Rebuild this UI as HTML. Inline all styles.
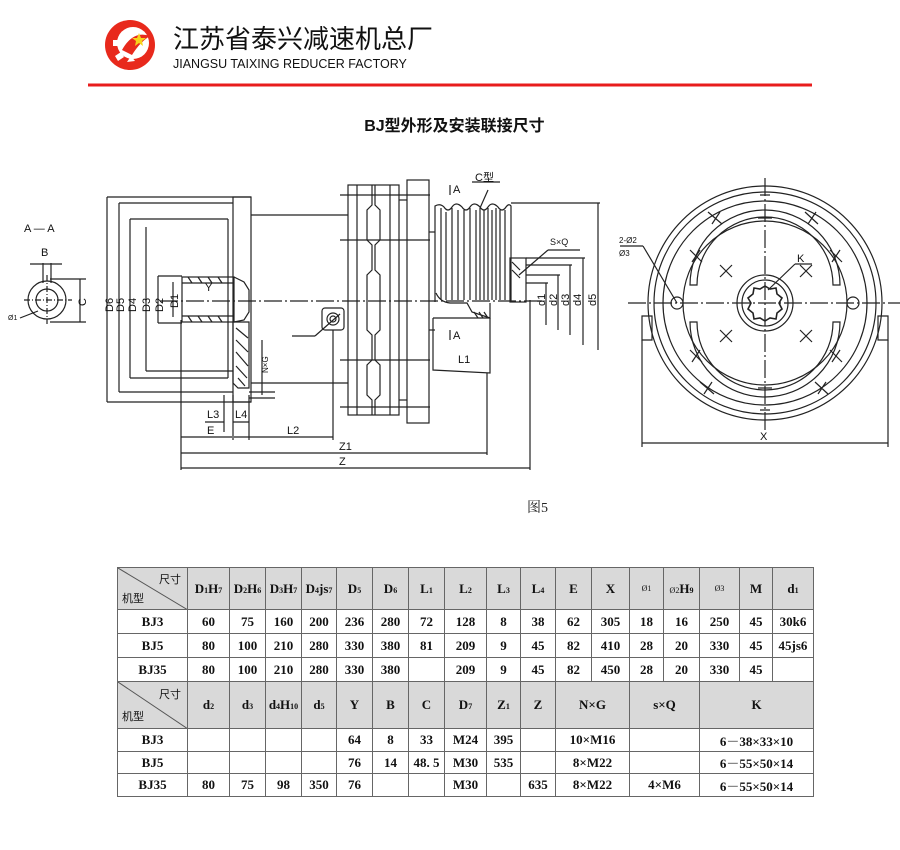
<!DOCTYPE html>
<html><head><meta charset="utf-8">
<style>
html,body{margin:0;padding:0;background:#fff;}
body{width:900px;height:850px;position:relative;overflow:hidden;font-family:"Liberation Serif","Noto Serif CJK SC",serif;}
.abs{position:absolute;}
table{border-collapse:collapse;table-layout:fixed;position:absolute;left:117px;top:567px;}
td{border:1px solid #666;text-align:center;font-weight:bold;font-size:13px;padding:0;color:#111;white-space:nowrap;overflow:hidden;}
td.g{background:#d9d9d9;}
td.c{position:relative;background:#d9d9d9;font-family:"Liberation Sans","Noto Sans CJK SC",sans-serif;font-weight:normal;font-size:11px;}
sub{font-size:8px;vertical-align:baseline;}
</style></head><body>
<svg class="abs" style="left:0;top:0" width="900" height="850" viewBox="0 0 900 850">
 <circle cx="130" cy="45" r="25" fill="#e8291c"/>
 <circle cx="133" cy="43" r="16" fill="#fff"/>
 <path d="M113 40 L119 40 L119 46 L113 46 Z M115 56 L121 52 L124 57 L118 61Z M127 62 L131 56 L135 61Z" fill="#fff"/>
 <path d="M122 50 Q133 30 150 36 Q140 42 132 55 Z" fill="#e8291c"/>
 <polygon points="139,33 141,38 146,38 142,41 143,46 139,43 135,46 136,41 132,38 137,38" fill="#f7d21a"/>
 <line x1="88" y1="85" x2="812" y2="85" stroke="#e81d1d" stroke-width="3"/>
 <g fill="none" stroke="#222" stroke-width="1.2">
  <circle cx="47" cy="300" r="19"/><circle cx="47" cy="300" r="11"/>
  <line x1="24" y1="300" x2="72" y2="300" stroke-dasharray="6,2,1,2"/>
  <line x1="47" y1="275" x2="47" y2="324" stroke-dasharray="6,2,1,2"/>
  <line x1="43" y1="263" x2="43" y2="283"/><line x1="51" y1="263" x2="51" y2="283"/>
  <line x1="30" y1="264" x2="62" y2="264"/>
  <line x1="50" y1="279" x2="86" y2="279"/><line x1="50" y1="322" x2="86" y2="322"/>
  <line x1="80" y1="279" x2="80" y2="322"/>
  <line x1="20" y1="318" x2="38" y2="311"/>
  <path d="M107 197 H251 M107 402 H251 M107 197 V402"/>
  <path d="M119 203 H233 M119 392 H233 M119 203 V392"/>
  <path d="M130 219 H228 M130 378 H228 M130 219 V378"/>
  <path d="M146 227 V371 M146 371 H233"/>
  <path d="M158 276 H182 M158 323 H182 M158 276 V323"/>
  <path d="M173 282 V317"/>
  <rect x="233" y="197" width="18" height="205"/>
  <line x1="228" y1="219" x2="228" y2="378"/>
  <rect x="182" y="277" width="52" height="45"/>
  <line x1="182" y1="283" x2="234" y2="283"/><line x1="182" y1="316" x2="234" y2="316"/>
  <path d="M234 277 L244 282 L249 290 L249 312 L244 320 L234 322"/>
  <path d="M233 322 L249 322 L249 388 L238 388 L233 383 Z"/>
  <path d="M236 328 L248 338 M236 340 L248 352 M236 352 L248 366 M236 366 L247 378 M238 378 L245 386"/>
  <path d="M188 277 L192 283 M198 277 L202 283 M208 277 L212 283 M218 277 L222 283 M188 316 L192 322 M198 316 L202 322 M208 316 L212 322 M218 316 L222 322"/>
  <path d="M251 215 H348 M251 383 H348"/>
  <rect x="322" y="308" width="22" height="22" rx="3"/>
  <circle cx="333" cy="319" r="6"/><circle cx="333" cy="319" r="3"/>
  <line x1="292" y1="336" x2="315" y2="336"/><line x1="315" y1="336" x2="340" y2="314"/>
  <rect x="348" y="185" width="51" height="230"/>
  <line x1="357" y1="185" x2="357" y2="415"/><line x1="390" y1="185" x2="390" y2="415"/>
  <path d="M372 185 V205 L367 210 V240 L372 245 V270 L367 275 V330 L372 335 V360 L367 365 V395 L372 400 V415"/>
  <path d="M375 185 V205 L380 210 V240 L375 245 V270 L380 275 V330 L375 335 V360 L380 365 V395 L375 400 V415"/>
  <line x1="340" y1="195" x2="430" y2="195"/><line x1="340" y1="240" x2="430" y2="240"/>
  <line x1="340" y1="360" x2="430" y2="360"/><line x1="340" y1="407" x2="430" y2="407"/>
  <rect x="407" y="180" width="22" height="243"/>
  <line x1="399" y1="200" x2="407" y2="200"/><line x1="399" y1="400" x2="407" y2="400"/>
  <line x1="429" y1="232" x2="435" y2="232"/><line x1="429" y1="330" x2="435" y2="330"/>
  <path d="M435 302 V206 Q440 203 444 207 Q448 213 452 207 Q456 201 462 207 Q466 213 470 207 Q474 201 480 207 Q484 213 488 207 Q492 201 498 207 Q502 213 506 207 Q509 203 511 206 V302"/>
  <path d="M441 208 V300 M446 212 V300 M452 208 V300 M458 210 V300 M464 210 V300 M470 208 V300 M476 210 V300 M480 208 V300 M484 210 V300 M488 208 V300 M492 210 V300 M496 208 V300 M500 210 V300 M505 210 V300"/>
  <path d="M436 293 Q440 302 450 303 H467 L472 312 L490 318 V303"/>
  <path d="M474 312 L478 318 M479 312 L483 318 M484 312 L488 318"/>
  <rect x="510" y="258" width="16" height="44"/>
  <path d="M512 262 L520 270 M512 270 L520 278"/>
  <path d="M433 318 H490 M433 318 V370 L490 373 V318"/>
  <line x1="160" y1="301" x2="545" y2="301" stroke-dasharray="18,3,2,3"/>
  <path d="M511 203 H600 M598 203 V350 M526 258 H585 M583 258 V345 M526 265 H572 M570 265 V335 M526 275 H560 M558 275 V330 M526 283 H548 M546 283 V325"/>
  <line x1="519" y1="275" x2="548" y2="250"/><line x1="548" y1="250" x2="580" y2="250"/>
  <line x1="488" y1="190" x2="480" y2="208"/><line x1="472" y1="182" x2="500" y2="182"/>
  <line x1="450" y1="185" x2="450" y2="195"/><line x1="450" y1="330" x2="450" y2="340"/>
  <path d="M181 320 V470 M224 395 V432 M233 395 V440 M249 395 V440 M333 330 V440 M487 373 V455 M530 300 V470"/>
  <path d="M205 422 H224 M233 422 H249 M181 437 H232 M234 437 H333 M181 453 H487 M181 468 H530"/>
  <path d="M262 340 V395 M249 392 H275 M249 398 H275"/>
  <circle cx="765" cy="303" r="117"/><circle cx="765" cy="303" r="111"/><circle cx="765" cy="303" r="102"/>
  <circle cx="765" cy="303" r="82"/>
  <path d="M690 285 A75 75 0 0 1 840 285 L833 285 A68 68 0 0 0 697 285 Z"/>
  <path d="M690 322 A75 75 0 0 0 840 322 L833 322 A68 68 0 0 1 697 322 Z"/>
  <circle cx="765" cy="303" r="28"/><circle cx="765" cy="303" r="23"/>
  <path d="M765 286 L770 289 L776 288 L777 294 L782 298 L779 303 L782 309 L777 313 L776 319 L770 318 L765 321 L760 318 L754 319 L753 313 L748 309 L751 303 L748 298 L753 294 L754 288 L760 289 Z" stroke-width="1.6"/>
  <line x1="628" y1="303" x2="905" y2="303" stroke-dasharray="18,3,2,3"/>
  <line x1="765" y1="178" x2="765" y2="430" stroke-dasharray="18,3,2,3"/>
  <circle cx="677" cy="303" r="6"/><circle cx="853" cy="303" r="6"/>
  <path d="M642 316 H652 V340 H642 Z M878 316 H888 V340 H878 Z"/>
  <path d="M642 340 V447 M888 340 V447 M642 443 H888"/>
  <line x1="620" y1="246" x2="643" y2="246"/><line x1="643" y1="246" x2="677" y2="303"/>
  <line x1="768" y1="290" x2="795" y2="264"/><line x1="795" y1="264" x2="812" y2="264"/>
  <path d="M708 212 L722 224 M712 224 L720 212 M805 212 L818 224 M808 224 L816 212 M700 382 L714 394 M704 394 L712 382 M815 382 L828 394 M818 394 L826 382 M720 330 L732 342 M720 342 L732 330 M800 330 L812 342 M800 342 L812 330 M720 265 L732 277 M720 277 L732 265 M800 265 L812 277 M800 277 L812 265 M690 250 L702 262 M692 262 L700 250 M830 250 L842 262 M832 262 L840 250 M690 350 L702 362 M692 362 L700 350 M830 350 L842 362 M832 362 L840 350 M758 218 H772 M758 388 H772 M760 195 H770 M760 410 H770"/>
 </g>
 <g fill="#111" font-family="Liberation Sans, sans-serif" font-size="11">
  <text x="24" y="232">A — A</text><text x="41" y="256">B</text><text x="86" y="306" transform="rotate(-90 86 306)">C</text>
  <text x="8" y="320" font-size="7">Ø1</text>
  <text x="113" y="312" transform="rotate(-90 113 312)">D6</text><text x="124" y="312" transform="rotate(-90 124 312)">D5</text>
  <text x="136" y="312" transform="rotate(-90 136 312)">D4</text><text x="150" y="312" transform="rotate(-90 150 312)">D3</text>
  <text x="163" y="312" transform="rotate(-90 163 312)">D2</text><text x="178" y="308" transform="rotate(-90 178 308)">D1</text>
  <text x="205" y="291">Y</text><text x="268" y="373" transform="rotate(-90 268 373)" font-size="8">N×G</text>
  <text x="207" y="418">L3</text><text x="235" y="418">L4</text><text x="207" y="434">E</text><text x="287" y="434">L2</text>
  <text x="339" y="450">Z1</text><text x="339" y="465">Z</text>
  <text x="453" y="193">A</text><text x="475" y="181">C型</text><text x="453" y="339">A</text><text x="458" y="363">L1</text>
  <text x="550" y="245" font-size="9">S×Q</text>
  <text x="545" y="306" transform="rotate(-90 545 306)">d1</text><text x="557" y="306" transform="rotate(-90 557 306)">d2</text>
  <text x="569" y="306" transform="rotate(-90 569 306)">d3</text><text x="581" y="306" transform="rotate(-90 581 306)">d4</text>
  <text x="596" y="306" transform="rotate(-90 596 306)">d5</text>
  <text x="619" y="243" font-size="8">2-Ø2</text><text x="619" y="256" font-size="8">Ø3</text>
  <text x="797" y="262">K</text><text x="760" y="440">X</text>
 </g>
 <text x="527" y="512" font-size="14" font-family="Liberation Serif, Noto Serif CJK SC, serif" fill="#222">图5</text>
</svg>
<div class="abs" style="left:173px;top:24px;font-family:'Liberation Sans','Noto Sans CJK SC',sans-serif;font-size:26px;color:#111;line-height:30px;">江苏省泰兴减速机总厂</div>
<div class="abs" style="left:173px;top:56px;font-family:'Liberation Sans',sans-serif;font-size:12.5px;color:#111;line-height:16px;">JIANGSU TAIXING REDUCER FACTORY</div>
<div class="abs" style="left:0;width:900px;top:116px;text-align:center;font-family:'Liberation Sans','Noto Sans CJK SC',sans-serif;font-weight:bold;font-size:16px;color:#111;line-height:22px;">&nbsp;&nbsp;BJ型外形及安装联接尺寸</div>
<table>
<colgroup><col style="width:70px"><col style="width:42px"><col style="width:36px"><col style="width:36px"><col style="width:35px"><col style="width:36px"><col style="width:36px"><col style="width:36px"><col style="width:42px"><col style="width:34px"><col style="width:35px"><col style="width:36px"><col style="width:38px"><col style="width:34px"><col style="width:36px"><col style="width:40px"><col style="width:33px"><col style="width:41px"></colgroup>
<tr style="height:42px"><td class="c"><svg style="position:absolute;left:0;top:0" width="70" height="42"><line x1="0" y1="0" x2="70" y2="42" stroke="#555"/></svg><span style="position:absolute;right:6px;top:3px">尺寸</span><span style="position:absolute;left:4px;bottom:3px">机型</span></td>
<td class="g">D<sub>1</sub>H<sub>7</sub></td><td class="g">D<sub>2</sub>H<sub>6</sub></td><td class="g">D<sub>3</sub>H<sub>7</sub></td><td class="g">D<sub>4</sub>js<sub>7</sub></td><td class="g">D<sub>5</sub></td><td class="g">D<sub>6</sub></td><td class="g">L<sub>1</sub></td><td class="g">L<sub>2</sub></td><td class="g">L<sub>3</sub></td><td class="g">L<sub>4</sub></td><td class="g">E</td><td class="g">X</td><td class="g" style="font-size:8px;font-weight:normal">Ø1</td><td class="g"><span style="font-size:8px;font-weight:normal">Ø2</span>H<sub>9</sub></td><td class="g" style="font-size:8px;font-weight:normal">Ø3</td><td class="g">M</td><td class="g">d<sub>1</sub></td></tr>
<tr style="height:24px"><td>BJ3</td><td>60</td><td>75</td><td>160</td><td>200</td><td>236</td><td>280</td><td>72</td><td>128</td><td>8</td><td>38</td><td>62</td><td>305</td><td>18</td><td>16</td><td>250</td><td>45</td><td>30k6</td></tr>
<tr style="height:24px"><td>BJ5</td><td>80</td><td>100</td><td>210</td><td>280</td><td>330</td><td>380</td><td>81</td><td>209</td><td>9</td><td>45</td><td>82</td><td>410</td><td>28</td><td>20</td><td>330</td><td>45</td><td>45js6</td></tr>
<tr style="height:24px"><td>BJ35</td><td>80</td><td>100</td><td>210</td><td>280</td><td>330</td><td>380</td><td></td><td>209</td><td>9</td><td>45</td><td>82</td><td>450</td><td>28</td><td>20</td><td>330</td><td>45</td><td></td></tr>
<tr style="height:47px"><td class="c"><svg style="position:absolute;left:0;top:0" width="70" height="47"><line x1="0" y1="0" x2="70" y2="47" stroke="#555"/></svg><span style="position:absolute;right:6px;top:4px">尺寸</span><span style="position:absolute;left:4px;bottom:4px">机型</span></td>
<td class="g">d<sub>2</sub></td><td class="g">d<sub>3</sub></td><td class="g">d<sub>4</sub>H<sub>10</sub></td><td class="g">d<sub>5</sub></td><td class="g">Y</td><td class="g">B</td><td class="g">C</td><td class="g">D<sub>7</sub></td><td class="g">Z<sub>1</sub></td><td class="g">Z</td><td class="g" colspan="2">N×G</td><td class="g" colspan="2">s×Q</td><td class="g" colspan="3">K</td></tr>
<tr style="height:23px"><td>BJ3</td><td></td><td></td><td></td><td></td><td>64</td><td>8</td><td>33</td><td>M24</td><td>395</td><td></td><td colspan="2">10×M16</td><td colspan="2"></td><td colspan="3">6－38×33×10</td></tr>
<tr style="height:22px"><td>BJ5</td><td></td><td></td><td></td><td></td><td>76</td><td>14</td><td>48. 5</td><td>M30</td><td>535</td><td></td><td colspan="2">8×M22</td><td colspan="2"></td><td colspan="3">6－55×50×14</td></tr>
<tr style="height:23px"><td>BJ35</td><td>80</td><td>75</td><td>98</td><td>350</td><td>76</td><td></td><td></td><td>M30</td><td></td><td>635</td><td colspan="2">8×M22</td><td colspan="2">4×M6</td><td colspan="3">6－55×50×14</td></tr>
</table>
</body></html>
